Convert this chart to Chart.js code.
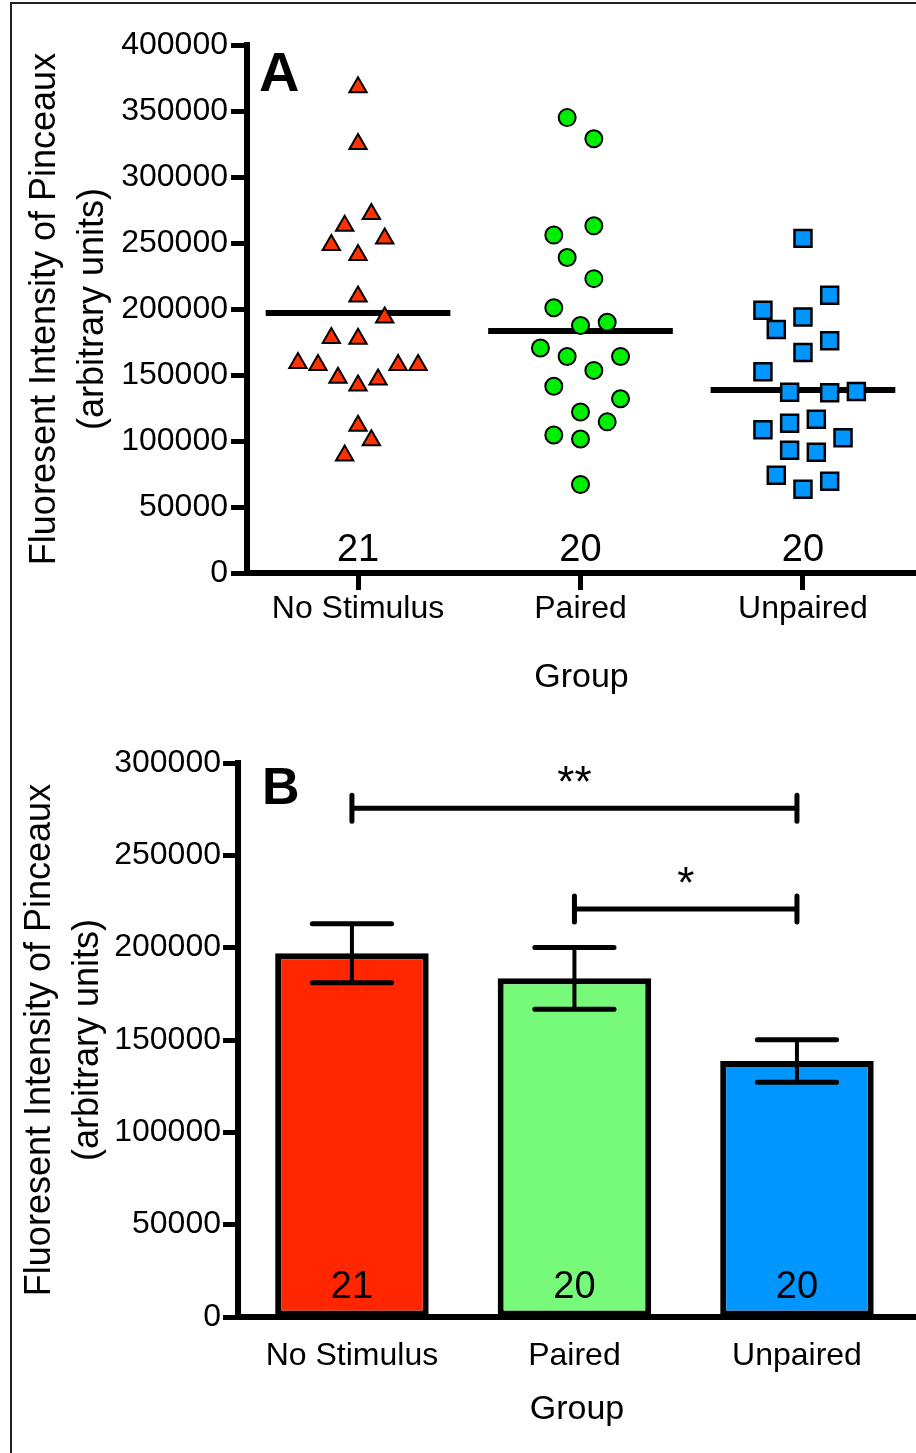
<!DOCTYPE html>
<html>
<head>
<meta charset="utf-8">
<title>Fluoresent Intensity of Pinceaux</title>
<script src="https://cdn.jsdelivr.net/npm/chart.js@4.4.1/dist/chart.umd.min.js"></script>
<style>
  html, body { margin: 0; padding: 0; background: #fff; }
  #page { position: relative; width: 916px; height: 1453px; overflow: hidden; }
  #frame { position: absolute; left: 10px; top: 2px; width: 1000px; height: 2000px; border: 2px solid #222; }
  .panel { position: absolute; left: 0; width: 916px; }
  #panel-a { top: 0; height: 720px; }
  #panel-b { top: 720px; height: 733px; }
</style>
</head>
<body>
<div id="page">
  <div id="frame"></div>
  <div class="panel" id="panel-a"><canvas id="scatter-chart" width="916" height="720"></canvas></div>
  <div class="panel" id="panel-b"><canvas id="bar-chart" width="916" height="733"></canvas></div>
</div>
<script>
// Groups shared by both panels
const groupNames = ['No Stimulus', 'Paired', 'Unpaired'];
const groupCounts = [21, 20, 20];
const groupMeans = [197000, 183400, 138600];
const groupSems = [16000, 16700, 11500];

// Individual pinceau intensities (panel A); jitter is in group widths
const noStimulusValues = [368000, 325000, 272000, 263000, 253500, 248500, 241000, 209500, 193500, 178000, 177500,
  159000, 157500, 157500, 157500, 148000, 146500, 142000, 111500, 100500, 89000];
const noStimulusJitter = [0, 0, 0.06, -0.06, 0.12, -0.12, 0, 0, 0.12, -0.12, 0,
  -0.27, -0.18, 0.18, 0.27, -0.09, 0.09, 0, 0, 0.06, -0.06];
const pairedValues = [345000, 329000, 263000, 256000, 239000, 223000, 201000, 187500, 190000, 170500,
  164000, 164000, 153500, 141500, 132000, 122000, 114500, 104500, 101500, 67000];
const pairedJitter = [-0.06, 0.06, 0.06, -0.12, -0.06, 0.06, -0.12, 0, 0.12, -0.18,
  -0.06, 0.18, 0.06, -0.12, 0.18, 0, 0.12, -0.12, 0, 0];
const unpairedValues = [253500, 210500, 199000, 194000, 184500, 176000, 167000, 152500, 137000, 136500,
  137500, 116500, 113500, 108500, 102500, 93000, 91500, 74000, 69500, 63500];
const unpairedJitter = [0, 0.12, -0.18, 0, -0.12, 0.12, 0, -0.18, -0.06, 0.12,
  0.24, 0.06, -0.06, -0.18, 0.18, -0.06, 0.06, -0.12, 0.12, 0];

// Significance brackets (panel B)
const bracketFrom = [1, 2];
const bracketTo = [3, 3];
const bracketLevel = [275500, 221000];
const bracketMarks = ['**', '*'];

const scatterChartCanvas = document.getElementById('scatter-chart');
const barChartCanvas = document.getElementById('bar-chart');

const FONT = "'Liberation Sans', Arial, sans-serif";
Chart.defaults.font.family = FONT;
Chart.defaults.color = '#000';

// Build {x, y} points for one group, spread around the group position
function buildPoints(groupIndex, values, jitter) {
  return values.map((v, i) => ({ x: groupIndex + 1 + jitter[i], y: v }));
}

// Short horizontal segment at the group mean
function buildMeanLine(groupIndex) {
  const x = groupIndex + 1;
  return [{ x: x - 0.415, y: groupMeans[groupIndex] }, { x: x + 0.415, y: groupMeans[groupIndex] }];
}

function plainNumber(value) {
  return String(value);
}

function groupLabel(value) {
  return groupNames[value - 1] || '';
}

function groupTicks(scale) {
  scale.ticks = groupNames.map((name, i) => ({ value: i + 1 }));
}

// Panel letter and n per group
function drawPanelText(chart, letter, letterSize, letterX, letterY, countGap) {
  const ctx = chart.ctx;
  const x = chart.scales.x;
  const y = chart.scales.y;
  ctx.save();
  ctx.fillStyle = '#000';
  ctx.font = `bold ${letterSize}px ${FONT}`;
  ctx.textAlign = 'left';
  ctx.textBaseline = 'alphabetic';
  ctx.fillText(letter, letterX, letterY);
  ctx.font = `38px ${FONT}`;
  ctx.textAlign = 'center';
  groupCounts.forEach((n, i) => {
    ctx.fillText(String(n), x.getPixelForValue(i + 1), y.getPixelForValue(0) - countGap);
  });
  ctx.restore();
}

const scatterTextPlugin = {
  id: 'scatterText',
  afterDatasetsDraw(chart) {
    drawPanelText(chart, 'A', 56, 259, 91, 12);
  },
};

const barExtrasPlugin = {
  id: 'barExtras',
  afterDatasetsDraw(chart) {
    const ctx = chart.ctx;
    const x = chart.scales.x;
    const y = chart.scales.y;
    ctx.save();
    ctx.strokeStyle = '#000';
    ctx.lineCap = 'round';

    // error bars (mean +/- SEM)
    groupMeans.forEach((m, i) => {
      const cx = x.getPixelForValue(i + 1);
      const top = y.getPixelForValue(m + groupSems[i]);
      const bottom = y.getPixelForValue(m - groupSems[i]);
      const half = x.getPixelForValue(i + 1 + 0.178) - cx;
      ctx.lineWidth = 4;
      ctx.beginPath();
      ctx.moveTo(cx, top);
      ctx.lineTo(cx, bottom);
      ctx.stroke();
      ctx.lineWidth = 5;
      ctx.beginPath();
      ctx.moveTo(cx - half, top);
      ctx.lineTo(cx + half, top);
      ctx.moveTo(cx - half, bottom);
      ctx.lineTo(cx + half, bottom);
      ctx.stroke();
    });

    // significance brackets
    ctx.font = `44px ${FONT}`;
    ctx.textAlign = 'center';
    ctx.textBaseline = 'alphabetic';
    ctx.fillStyle = '#000';
    bracketLevel.forEach((level, i) => {
      const x1 = x.getPixelForValue(bracketFrom[i]);
      const x2 = x.getPixelForValue(bracketTo[i]);
      const by = y.getPixelForValue(level);
      ctx.lineWidth = 5;
      ctx.beginPath();
      ctx.moveTo(x1, by);
      ctx.lineTo(x2, by);
      ctx.moveTo(x1, by - 13);
      ctx.lineTo(x1, by + 13);
      ctx.moveTo(x2, by - 13);
      ctx.lineTo(x2, by + 13);
      ctx.stroke();
      ctx.fillText(bracketMarks[i], (x1 + x2) / 2, by - 11);
    });
    ctx.restore();

    drawPanelText(chart, 'B', 52, 262, 84, 19);
  },
};

const axisBorder = { color: '#000', width: 6 };
const yTitle = ['Fluoresent Intensity of Pinceaux', '(arbitrary units)'];

// Panel A: individual values with group means
const scatterChart = new Chart(scatterChartCanvas, {
  type: 'scatter',
  data: {
    datasets: [
      {
        data: buildPoints(0, noStimulusValues, noStimulusJitter),
        pointStyle: 'triangle',
        pointRadius: 10,
        backgroundColor: '#ff3200',
        borderColor: '#000',
        borderWidth: 2,
        order: 0,
      },
      {
        data: buildPoints(1, pairedValues, pairedJitter),
        pointStyle: 'circle',
        pointRadius: 8.5,
        backgroundColor: '#00ee00',
        borderColor: '#000',
        borderWidth: 2,
        order: 0,
      },
      {
        data: buildPoints(2, unpairedValues, unpairedJitter),
        pointStyle: 'rect',
        pointRadius: 12,
        backgroundColor: '#0096ff',
        borderColor: '#000',
        borderWidth: 2.5,
        order: 0,
      },
      ...groupNames.map((name, i) => ({
        type: 'line',
        data: buildMeanLine(i),
        borderColor: '#000',
        borderWidth: 6,
        pointRadius: 0,
        order: 1,
      })),
    ],
  },
  options: {
    responsive: false,
    animation: false,
    layout: { autoPadding: false, padding: { top: 45, left: 0, right: 0, bottom: 0 } },
    plugins: { legend: { display: false }, tooltip: { enabled: false } },
    scales: {
      x: {
        type: 'linear',
        offset: false,
        min: 0.501,
        max: 3.508,
        afterBuildTicks: groupTicks,
        afterFit: (scale) => { scale.height = 147; },
        border: axisBorder,
        grid: { drawOnChartArea: false, tickLength: 17, tickWidth: 5, tickColor: '#000' },
        ticks: { callback: groupLabel, font: { size: 32 }, padding: 0, maxRotation: 0, autoSkip: false },
        title: { display: true, text: 'Group', font: { size: 34 }, padding: { top: 0, bottom: 22 } },
      },
      y: {
        min: 0,
        max: 400000,
        afterFit: (scale) => { scale.width = 247; },
        border: axisBorder,
        grid: { drawOnChartArea: false, tickLength: 16, tickWidth: 5, tickColor: '#000' },
        ticks: { stepSize: 50000, callback: plainNumber, font: { size: 32 }, padding: 3 },
        title: { display: true, text: yTitle, font: { size: 36, lineHeight: 1.33 }, padding: { top: 21, bottom: 0 } },
      },
    },
  },
  plugins: [scatterTextPlugin],
});

// Panel B: group means with SEM
const barChart = new Chart(barChartCanvas, {
  type: 'bar',
  data: {
    datasets: [
      {
        data: groupMeans.map((m, i) => ({ x: i + 1, y: m })),
        backgroundColor: ['#ff2600', '#77fa7a', '#0096ff'],
        borderColor: '#000',
        borderWidth: 6,
        borderSkipped: false,
        categoryPercentage: 0.69,
        barPercentage: 1,
      },
    ],
  },
  options: {
    responsive: false,
    animation: false,
    layout: { padding: { top: 43, left: 0, right: 0, bottom: 0 } },
    plugins: { legend: { display: false }, tooltip: { enabled: false } },
    scales: {
      x: {
        type: 'linear',
        offset: false,
        min: 0.488,
        max: 3.535,
        afterBuildTicks: groupTicks,
        afterFit: (scale) => { scale.height = 136; },
        border: axisBorder,
        grid: { drawOnChartArea: false, drawTicks: false },
        ticks: { callback: groupLabel, font: { size: 32 }, padding: 20, maxRotation: 0, autoSkip: false },
        title: { display: true, text: 'Group', font: { size: 34 }, padding: { top: 0, bottom: 23 } },
      },
      y: {
        min: 0,
        max: 300000,
        afterFit: (scale) => { scale.width = 238; },
        border: axisBorder,
        grid: { drawOnChartArea: false, tickLength: 15, tickWidth: 5, tickColor: '#000' },
        ticks: { stepSize: 50000, callback: plainNumber, font: { size: 32 }, padding: 2 },
        title: { display: true, text: yTitle, font: { size: 36, lineHeight: 1.33 }, padding: { top: 16, bottom: 0 } },
      },
    },
  },
  plugins: [barExtrasPlugin],
});
</script>
</body>
</html>
